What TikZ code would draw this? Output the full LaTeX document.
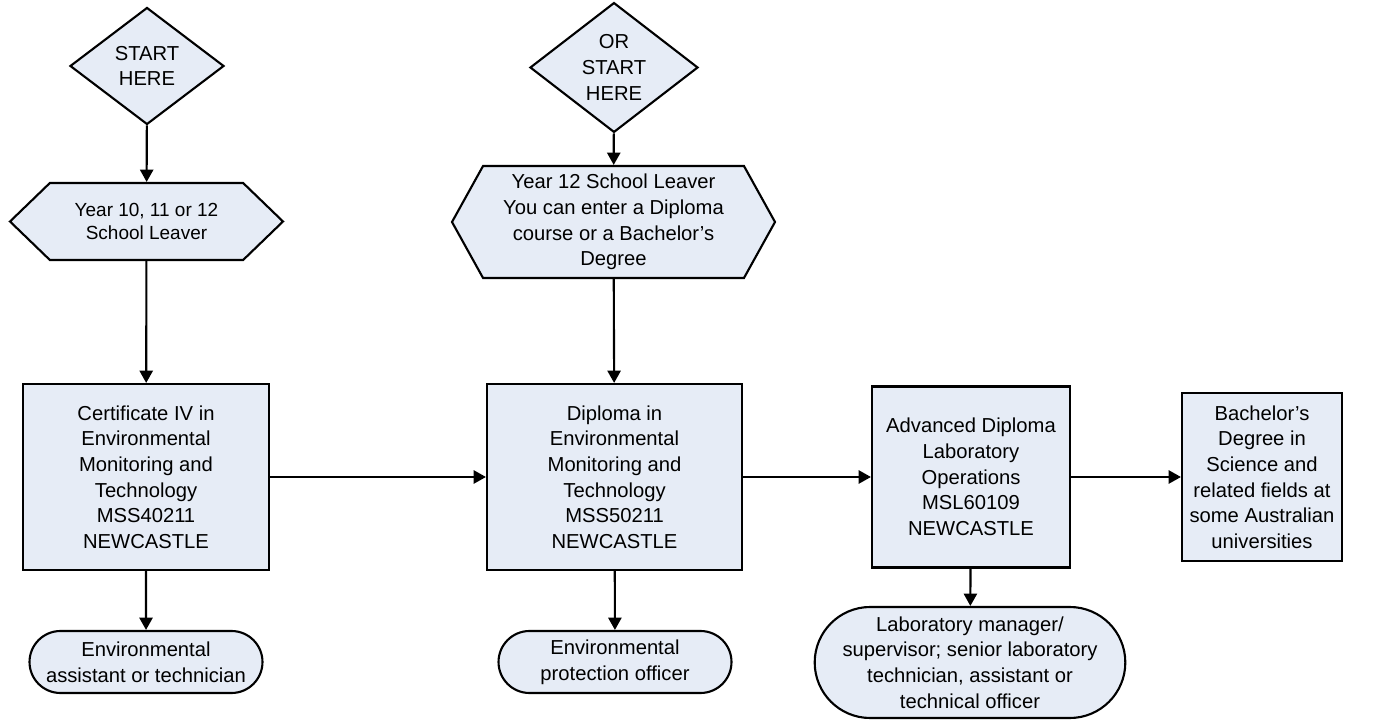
\documentclass[tikz,border=0pt]{standalone}
\usepackage{fontspec}
\setmainfont{Liberation Sans}
\usetikzlibrary{arrows.meta, positioning, shapes.geometric, shapes.symbols, shapes.misc}
\definecolor{boxfill}{RGB}{230,236,246}

\begin{document}
\begin{tikzpicture}[
  every node/.style={font=\fontsize{11.5}{14.6}\selectfont},
  base/.style={draw=black, line width=1.2pt, fill=boxfill, align=center, inner sep=2pt},
  process/.style={base, rectangle},
  decision/.style={base, diamond, inner sep=0pt},
  prep/.style={base, signal, signal to=west and east},
  terminal/.style={base, rounded rectangle},
  arrow/.style={-{Triangle[length=7pt, width=7.5pt]}, line width=1.2pt}
]

\useasboundingbox (0,0) rectangle (27.58,14.46);

% === FIRST ENTRY POINT ===
\node[decision, minimum width=3.08cm, minimum height=2.34cm] (start1) at (2.94, 13.14)
  {START\\HERE};
\node[prep, signal pointer angle=88, minimum width=5.46cm, minimum height=1.54cm,
      font=\fontsize{10.8}{12.6}\selectfont] (leaver1) at (2.93, 10.03)
  {Year 10, 11 or 12\\School Leaver};

% === SECOND ENTRY POINT ===
\node[decision, minimum width=3.36cm, minimum height=2.3cm] (start2) at (12.28, 13.11)
  {OR\\START\\HERE};
\node[prep, signal pointer angle=122, minimum width=6.46cm, minimum height=2.24cm] (leaver2) at (12.27, 10.02)
  {Year 12 School Leaver\\You can enter a Diploma\\course or a Bachelor's\\Degree};

% === COURSES ===
\node[process, minimum width=4.92cm, minimum height=3.72cm] (cert) at (2.92, 4.92)
  {Certificate IV in\\Environmental\\Monitoring and\\Technology\\MSS40211\\NEWCASTLE};
\node[process, minimum width=5.1cm, minimum height=3.72cm] (dipl) at (12.29, 4.92)
  {Diploma in\\Environmental\\Monitoring and\\Technology\\MSS50211\\NEWCASTLE};
\node[process, minimum width=3.96cm, minimum height=3.62cm] (adv) at (19.42, 4.92)
  {Advanced Diploma\\Laboratory\\Operations\\MSL60109\\NEWCASTLE};
\node[process, minimum width=3.2cm, minimum height=3.36cm] (bach) at (25.24, 4.92)
  {Bachelor's\\Degree in\\Science and\\related fields at\\some Australian\\universities};

% === CAREER OUTCOMES ===
\node[terminal, minimum width=4.8cm, minimum height=1.24cm] (job1) at (2.92, 1.22)
  {Environmental\\assistant or technician};
\node[terminal, minimum width=4.8cm, minimum height=1.24cm] (job2) at (12.3, 1.22)
  {Environmental\\protection officer};
\node[terminal, minimum width=5.72cm, minimum height=2.22cm] (job3) at (19.4, 1.21)
  {Laboratory manager/\\supervisor; senior laboratory\\technician, assistant or\\technical officer};

% === CONNECTORS ===
\draw[arrow] (start1) -- (leaver1);
\draw[arrow] (leaver1) -- (cert);
\draw[arrow] (start2) -- (leaver2);
\draw[arrow] (leaver2) -- (dipl);

\draw[arrow] (cert) -- (dipl);
\draw[arrow] (dipl) -- (adv);
\draw[arrow] (adv) -- (bach);

\draw[arrow] (cert) -- (job1);
\draw[arrow] (dipl) -- (job2);
\draw[arrow] (adv) -- (job3);

\end{tikzpicture}
\end{document}
